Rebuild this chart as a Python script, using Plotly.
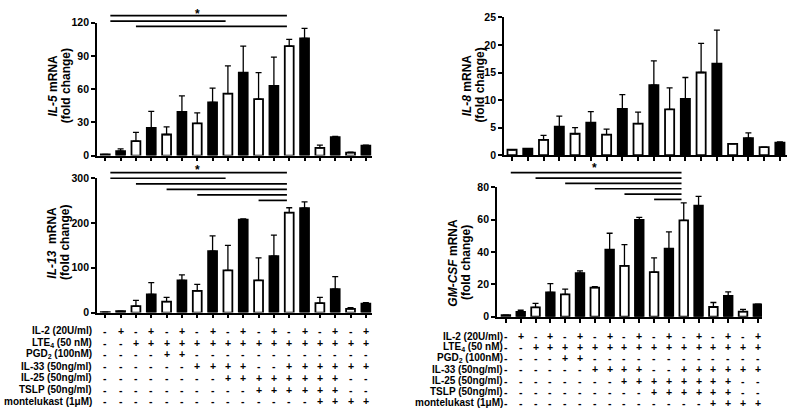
import plotly.graph_objects as go

W, H = 788, 414
FONT = "Liberation Sans, Arial, sans-serif"

# ---------------- data ----------------
bar_index = list(range(18))

il5_mean = [1, 4, 13, 25, 19, 39.4, 29, 48, 56, 75, 51, 63, 99, 106, 7, 16.6, 2.6, 9]
il5_sem = [0, 2, 8, 15, 7, 14.6, 9.5, 13, 25, 24, 24, 26, 6, 9, 2.4, 0.6, 0.5, 0.5]

il8_mean = [1.0, 1.2, 2.8, 5.2, 3.9, 5.9, 3.75, 8.4, 5.75, 12.7, 8.3, 10.2, 15.0, 16.6, 2.05, 3.1, 1.48, 2.3]
il8_sem = [0, 0, 0.8, 1.9, 1.1, 2.0, 1.0, 2.6, 2.05, 4.4, 3.9, 3.9, 5.3, 6.1, 0, 0.95, 0, 0.1]

il13_mean = [1, 3, 14.5, 40.5, 24.6, 72, 48.4, 137, 94, 207.5, 72, 126, 223, 233, 21, 52, 8, 20]
il13_sem = [0, 0, 12.5, 26.5, 9.4, 12, 14.6, 34, 56, 1.5, 50, 47, 11, 14, 13, 28, 3, 2]

gmcsf_mean = [1, 3, 5.8, 15, 13.8, 27, 18, 41.4, 31.4, 59.8, 27.6, 42, 59.6, 68.6, 6, 12.8, 3.2, 7.6]
gmcsf_sem = [0, 1, 2.4, 5.4, 3.2, 1.4, 0.6, 10.2, 13.2, 1.6, 8.8, 10.4, 10.8, 5.8, 2.8, 2.6, 1.4, 0.2]

il5_ticks = [0, 30, 60, 90, 120]
il8_ticks = [0, 5, 10, 15, 20, 25]
il13_ticks = [0, 100, 200, 300]
gmcsf_ticks = [0, 20, 40, 60, 80]

# significance brackets (1-based bar numbers), top to bottom
il5_sig = [(1, 13), (1, 9), (3, 13)]
il8_sig = []
il13_sig = [(1, 13), (1, 9), (3, 13), (5, 13), (7, 13), (11, 13)]
gmcsf_sig = [(1, 13), (3, 13), (5, 13), (7, 13), (9, 13), (11, 13)]

row_labels = ["IL-2 (20U/ml)", "LTE<sub>4</sub> (50 nM)", "PGD<sub>2</sub> (100nM)",
              "IL-33 (50ng/ml)", "IL-25 (50ng/ml)", "TSLP (50ng/ml)", "montelukast (1μM)"]
il2_row = list("-+-+-+-+-+-+-+-+-+")
lte4_row = list("--++++++++++++++++")
pgd2_row = list("----++------------")
il33_row = list("------++++--++++++")
il25_row = list("--------++++++++--")
tslp_row = list("----------++++++--")
monte_row = list("--------------++++")
rows = [il2_row, lte4_row, pgd2_row, il33_row, il25_row, tslp_row, monte_row]

# ---------------- layout helpers ----------------
def px(x):
    return x / W

def py(y):
    return 1 - y / H

bar_colors = ["black" if s == "+" else "white" for s in il2_row]

panels = [
    dict(ax="", mean=il5_mean, sem=il5_sem, ticks=il5_ticks, title="<i>IL-5</i> mRNA",
         xdom=(97, 372), ydom=(154, 17.3), xr=(-0.54, 17.4), sig=il5_sig,
         sig_top=10, sig_step=5.5, star_y=8, tx=(53, 65.7), ty=82),
    dict(ax="2", mean=il8_mean, sem=il8_sem, ticks=il8_ticks, title="<i>IL-8</i> mRNA",
         xdom=(504, 787), ydom=(153.7, 11.7), xr=(-0.51, 17.45), sig=il8_sig,
         sig_top=0, sig_step=0, star_y=0, tx=(466.7, 480), ty=82),
    dict(ax="3", mean=il13_mean, sem=il13_sem, ticks=il13_ticks, title="<i>IL-13</i>  mRNA",
         xdom=(97, 372), ydom=(315.7, 177.3), xr=(-0.54, 17.4), sig=il13_sig,
         sig_top=171.7, sig_step=5.7, star_y=169, tx=(51.7, 65), ty=244),
    dict(ax="4", mean=gmcsf_mean, sem=gmcsf_sem, ticks=gmcsf_ticks, title="<i>GM-CSF</i> mRNA",
         xdom=(497, 762), ydom=(320, 186.7), xr=(-0.6, 17.28), sig=gmcsf_sig,
         sig_top=171.7, sig_step=5.5, star_y=167, tx=(453.3, 466.7), ty=264),
]

fig = go.Figure()
layout = dict(width=W, height=H, margin=dict(l=0, r=0, t=0, b=0),
              paper_bgcolor="white", plot_bgcolor="white", showlegend=False,
              font=dict(family=FONT, color="black", size=10))
annotations = []
shapes = []

for p in panels:
    xa = "x" + p["ax"]
    ya = "y" + p["ax"]
    fig.add_trace(go.Bar(
        x=bar_index, y=p["mean"], xaxis=xa, yaxis=ya, width=0.58,
        marker=dict(color=bar_colors, line=dict(color="black", width=1.8)),
        error_y=dict(type="data", symmetric=False, array=p["sem"],
                     arrayminus=[0] * len(p["sem"]), color="black",
                     thickness=1.3, width=3),
        hoverinfo="skip"))
    layout["xaxis" + p["ax"]] = dict(
        domain=[px(p["xdom"][0]), px(p["xdom"][1])], range=list(p["xr"]),
        anchor=ya, showline=True, linecolor="black", linewidth=1.8,
        ticks="outside", ticklen=4, tickwidth=1.5, tickcolor="black",
        tickvals=bar_index, showticklabels=False, showgrid=False, zeroline=False,
        fixedrange=True)
    layout["yaxis" + p["ax"]] = dict(
        domain=[py(p["ydom"][0]), py(p["ydom"][1])],
        range=[p["ticks"][0], p["ticks"][-1]], anchor=xa,
        showline=True, linecolor="black", linewidth=1.8,
        ticks="outside", ticklen=4, tickwidth=1.5, tickcolor="black",
        tickvals=p["ticks"], tickfont=dict(family=FONT, size=10.5, weight="bold", color="black"),
        showgrid=False, zeroline=False, fixedrange=True)
    # axis titles (two lines)
    for txt, tx in zip([p["title"], "(fold change)"], p["tx"]):
        annotations.append(dict(
            text="<b>" + txt + "</b>", xref="paper", yref="paper", x=px(tx), y=py(p["ty"]),
            xanchor="center", yanchor="middle", textangle=-90, showarrow=False,
            font=dict(family=FONT, size=12, color="black")))
    # significance brackets
    for k, (s, e) in enumerate(p["sig"]):
        yy = py(p["sig_top"] + k * p["sig_step"])
        x0 = s - 1 + (0.33 if s == 1 else 0)
        shapes.append(dict(type="line", xref=xa, yref="paper", x0=x0, x1=e - 1 - 0.15,
                           y0=yy, y1=yy, line=dict(color="black", width=1.7)))
    if p["sig"]:
        s, e = p["sig"][0]
        annotations.append(dict(
            text="<b>*</b>", xref=xa, yref="paper", x=(s - 1 + e - 1) / 2, y=py(p["star_y"]),
            xanchor="center", yanchor="middle", showarrow=False,
            font=dict(family=FONT, size=12, color="black")))

# condition tables
tables = [dict(xa="x3", label_x=94, y0=334.5, dy=12.1),
          dict(xa="x4", label_x=505, y0=340, dy=11.45)]
for t in tables:
    for r, (lab, row) in enumerate(zip(row_labels, rows)):
        yy = py(t["y0"] + r * t["dy"])
        annotations.append(dict(
            text="<b>" + lab + "</b>", xref="paper", yref="paper", x=px(t["label_x"]), y=yy,
            xanchor="right", yanchor="middle", showarrow=False,
            font=dict(family=FONT, size=10, color="black")))
        for c, sym in enumerate(row):
            annotations.append(dict(
                text="<b>" + sym + "</b>", xref=t["xa"], yref="paper", x=c, y=yy,
                xanchor="center", yanchor="middle", showarrow=False,
                font=dict(family=FONT, size=10.5, color="black")))

layout["annotations"] = annotations
layout["shapes"] = shapes
fig.update_layout(**layout)
fig.write_html("out.html", config={"displayModeBar": False},
               post_script="document.body.style.margin='0px';document.body.style.overflow='hidden';")
